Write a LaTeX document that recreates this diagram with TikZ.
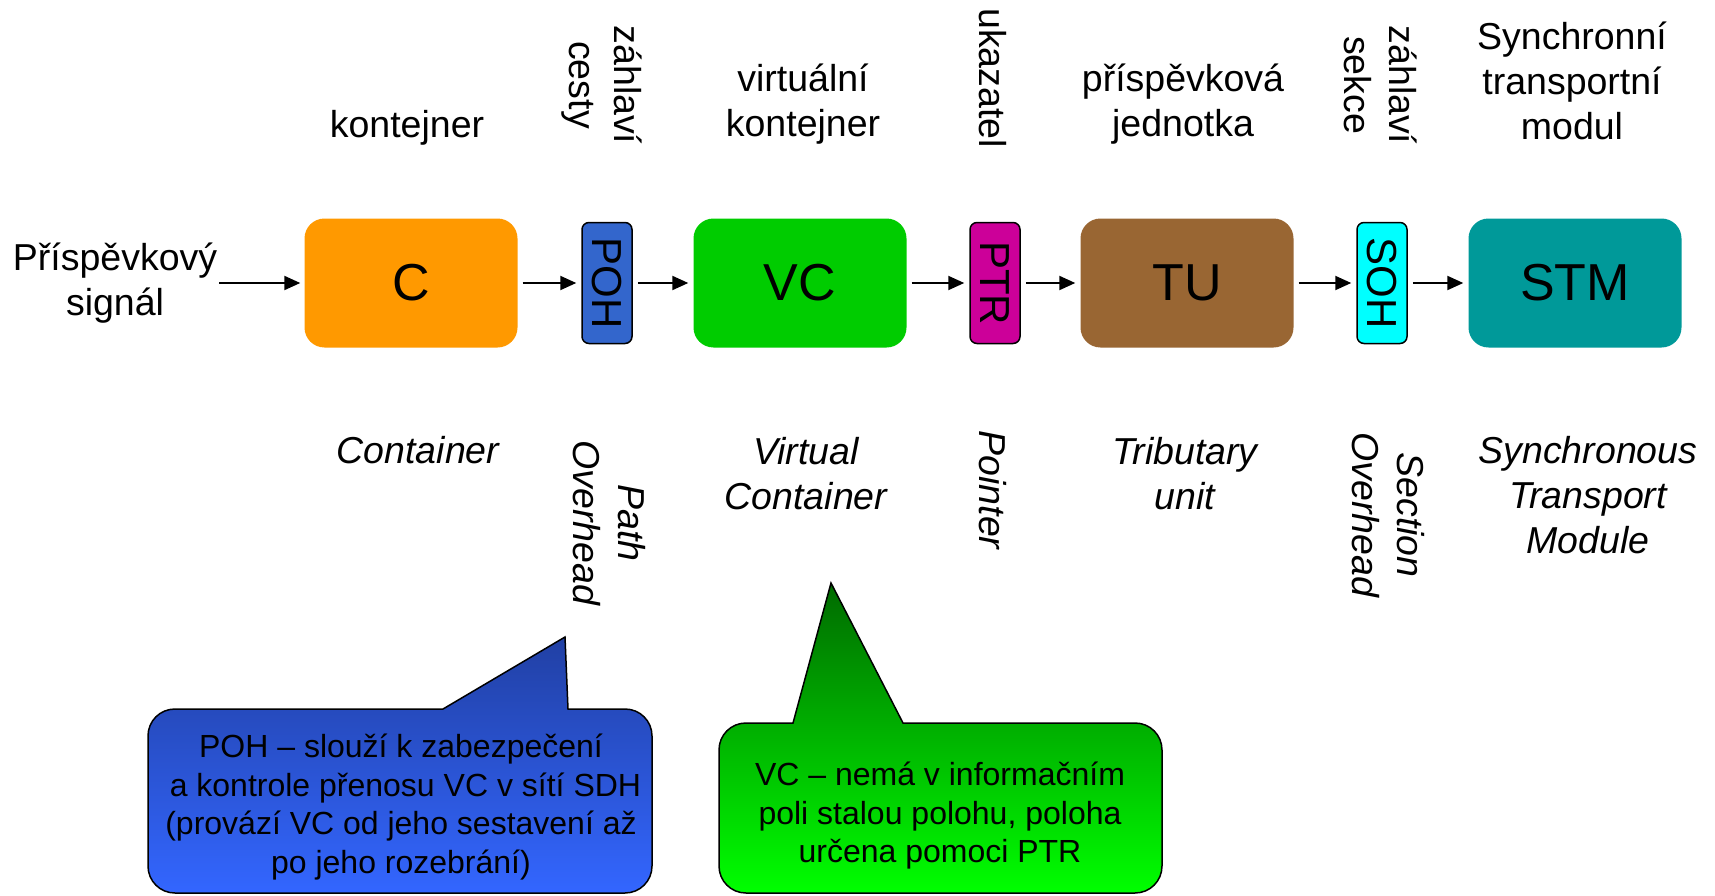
\documentclass[tikz,border=0pt]{standalone}
\usepackage{fontspec}
\setmainfont{Liberation Sans}
\usetikzlibrary{arrows.meta}
\definecolor{corange}{HTML}{FF9900}
\definecolor{cvc}{HTML}{00CC00}
\definecolor{ctu}{HTML}{996633}
\definecolor{cstm}{HTML}{009999}
\definecolor{cpoh}{HTML}{3366CC}
\definecolor{cptr}{HTML}{CC0099}
\definecolor{csoh}{HTML}{00FFFF}
\definecolor{bluetop}{HTML}{2140A4}
\definecolor{bluebot}{HTML}{3366FF}
\definecolor{greentop}{HTML}{006A00}
\definecolor{greenbot}{HTML}{00FF00}
\begin{document}
\begin{tikzpicture}[x=1pt,y=-1pt,
  bigbox/.style={rounded corners=20pt, minimum width=213pt, minimum height=129pt,
    inner sep=0pt, font=\fontsize{52}{60}\selectfont},
  smallbox/.style={draw=black, line width=1.5pt, rounded corners=7pt,
    minimum width=121pt, minimum height=50pt, inner sep=0pt, rotate=-90,
    font=\fontsize{42}{48}\selectfont},
  txt/.style={align=center, inner sep=0pt, font=\fontsize{37.5}{45}\selectfont},
  itxt/.style={align=center, inner sep=0pt, font=\fontsize{37.5}{45}\selectfont\itshape},
  ctxt/.style={align=center, inner sep=0pt, font=\fontsize{32}{38.5}\selectfont},
  arr/.style={line width=2pt, -{Triangle[length=16pt,width=14pt]},
    shorten >=5pt, shorten <=5pt},
  callout/.style={draw=black, line width=1.5pt}]

\fill[white] (0,0) rectangle (1715,896);
\useasboundingbox (0,0) rectangle (1715,896);

% signal chain
\node[txt] (sig) at (115,283) {Příspěvkový\\signál};
\node[bigbox, fill=corange] (C) at (411,283) {C};
\node[smallbox, fill=cpoh] (POH) at (607,283) {POH};
\node[bigbox, fill=cvc] (VC) at (800,283) {VC};
\node[smallbox, fill=cptr] (PTR) at (995,283) {PTR};
\node[bigbox, fill=ctu] (TU) at (1187,283) {TU};
\node[smallbox, fill=csoh] (SOH) at (1382,283) {SOH};
\node[bigbox, fill=cstm] (STM) at (1575,283) {STM};

\draw[arr, shorten <=2pt, shorten >=4pt] (sig) -- (C);
\draw[arr] (C) -- (POH);
\draw[arr] (POH) -- (VC);
\draw[arr] (VC) -- (PTR);
\draw[arr] (PTR) -- (TU);
\draw[arr] (TU) -- (SOH);
\draw[arr] (SOH) -- (STM);

% Czech names above
\node[txt] (lC) at (407,128) {kontejner};
\node[txt, rotate=-90] (lPOH) at (602,85) {záhlaví\\cesty};
\node[txt] (lVC) at (803,104) {virtuální\\kontejner};
\node[txt, rotate=-90] (lPTR) at (993,78) {ukazatel};
\node[txt] (lTU) at (1183,104) {příspěvková\\jednotka};
\node[txt, rotate=-90] (lSOH) at (1381,85) {záhlaví\\sekce};
\node[txt] (lSTM) at (1572,81) {Synchronní\\transportní\\modul};

% English names below
\node[itxt] (eC) at (418,450) {Container};
\node[itxt, rotate=-90] (ePOH) at (609,523) {Path\\Overhead};
\node[itxt] (eVC) at (806,474) {Virtual\\Container};
\node[itxt, rotate=-90] (ePTR) at (993,490) {Pointer};
\node[itxt] (eTU) at (1185,474) {Tributary\\unit};
\node[itxt, rotate=-90] (eSOH) at (1388,515) {Section\\Overhead};
\node[itxt] (eSTM) at (1588,495) {Synchronous\\Transport\\Module};

% speech bubble for POH
\shadedraw[callout, top color=bluetop, bottom color=bluebot]
  (443,709) -- (565,637) -- (568,709) -- (625,709)
  .. controls (640,709) and (652,721) .. (652,736) -- (652,866)
  .. controls (652,881) and (640,893) .. (625,893) -- (175,893)
  .. controls (160,893) and (148,881) .. (148,866) -- (148,736)
  .. controls (148,721) and (160,709) .. (175,709) -- cycle;
\node[ctxt] (tPOH) at (401,807) {POH – slouží k zabezpečení\\~a kontrole přenosu VC v sítí SDH\\(provází VC od jeho sestavení až\\po jeho rozebrání)};

% speech bubble for VC
\shadedraw[callout, top color=greentop, bottom color=greenbot]
  (793,723) -- (831,583) -- (903,723) -- (1135,723)
  .. controls (1150,723) and (1162,735) .. (1162,750) -- (1162,866)
  .. controls (1162,881) and (1150,893) .. (1135,893) -- (746,893)
  .. controls (731,893) and (719,881) .. (719,866) -- (719,750)
  .. controls (719,735) and (731,723) .. (746,723) -- cycle;
\node[ctxt] (tVC) at (940,816) {VC – nemá v informačním\\poli stalou polohu, poloha\\určena pomoci PTR};

\end{tikzpicture}
\end{document}
